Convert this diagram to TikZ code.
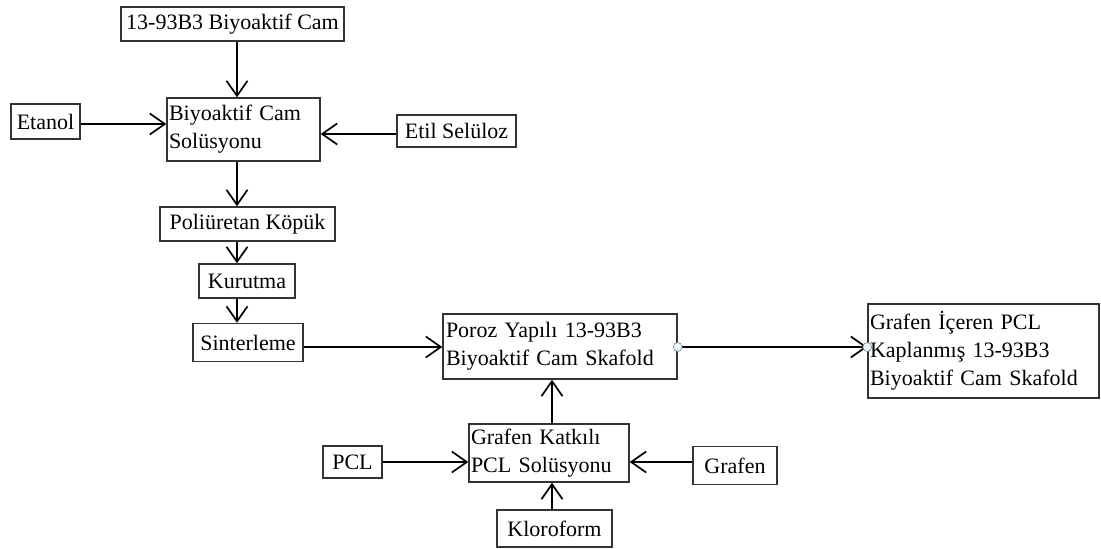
\documentclass[tikz,border=0pt]{standalone}
\usepackage{fontspec}
\setmainfont{Liberation Serif}
\usetikzlibrary{arrows.meta}
\begin{document}
\begin{tikzpicture}[x=1pt,y=-1pt,
  box/.style={draw=black!80, line width=1.4pt, inner sep=0pt, font=\fontsize{22}{28}\selectfont, text=black},
  conn/.style={line width=1.7pt, -{Straight Barb[length=15pt,width=21pt,line width=1.7pt]}},
  pin/.style={circle, draw=black!50, fill=cyan!10, line width=0.6pt, inner sep=0pt, minimum size=9pt}]
\useasboundingbox (0,0) rectangle (1101,549);
% boxes: center, width, height
\node[box, minimum width=223pt, minimum height=34pt] (cam) at (232.5,24) {13-93B3 Biyoaktif Cam};
\node[box, minimum width=153pt, minimum height=63pt, text width=149pt, align=left] (sol) at (243.5,129.5) {Biyoaktif Cam\\Solüsyonu};
\node[box, minimum width=69pt, minimum height=35pt] (eta) at (45.5,121.5) {Etanol};
\node[box, minimum width=119pt, minimum height=32pt] (etil) at (456.5,131) {Etil Selüloz};
\node[box, minimum width=175pt, minimum height=34pt] (pu) at (247.5,224) {Poliüretan Köpük};
\node[box, minimum width=96pt, minimum height=34pt] (kur) at (247,281) {Kurutma};
\node[box, minimum width=110pt, minimum height=38pt] (sin) at (248,342.5) {Sinterleme};
\node[box, minimum width=234pt, minimum height=65pt, text width=228pt, align=left] (por) at (560,346.5) {Poroz Yapılı 13-93B3\\Biyoaktif Cam Skafold};
\node[box, minimum width=160pt, minimum height=58pt, text width=156pt, align=left] (gk) at (549,453) {Grafen Katkılı\\PCL Solüsyonu};
\node[box, minimum width=59pt, minimum height=32pt] (pcl) at (352.5,462) {PCL};
\node[box, minimum width=84pt, minimum height=38pt] (gr) at (735,465.5) {Grafen};
\node[box, minimum width=115pt, minimum height=37pt] (klo) at (554.5,528.5) {Kloroform};
\node[box, minimum width=231pt, minimum height=94pt, text width=227pt, align=left] (gic) at (983.5,351) {Grafen İçeren PCL\\Kaplanmış 13-93B3\\Biyoaktif Cam Skafold};
% connectors
\draw[conn] (cam.south -| 237,0) -- (sol.north -| 237,0);
\draw[conn] (sol.south -| 237,0) -- (pu.north -| 237,0);
\draw[conn] (pu.south -| 237,0) -- (kur.north -| 237,0);
\draw[conn] (kur.south -| 237,0) -- (sin.north -| 237,0);
\draw[conn] (eta.east |- 0,124) -- (sol.west |- 0,124);
\draw[conn] (etil.west |- 0,134) -- (sol.east |- 0,134);
\draw[conn] (sin.east |- 0,347) -- (por.west |- 0,347);
\draw[conn] (gk.north -| 552,0) -- (por.south -| 552,0);
\draw[conn] (pcl.east |- 0,462) -- (gk.west |- 0,462);
\draw[conn] (gr.west |- 0,462) -- (gk.east |- 0,462);
\draw[conn] (klo.north -| 552,0) -- (gk.south -| 552,0);
\draw[conn] (por.east |- 0,347) -- (gic.west |- 0,347);
\node[pin] (p1) at (por.east |- 0,347) {};
\node[pin] (p2) at (gic.west |- 0,347) {};
\end{tikzpicture}
\end{document}
